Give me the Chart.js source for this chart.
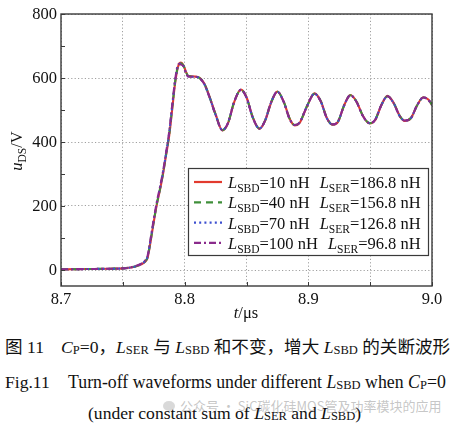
<!DOCTYPE html>
<html><head><meta charset="utf-8">
<script src="https://cdn.jsdelivr.net/npm/chart.js@4.4.0/dist/chart.umd.min.js"></script>
<style>
html,body{margin:0;padding:0;background:#fff;}
#wrap{position:relative;width:451px;height:425px;overflow:hidden;background:#fff;}
canvas{position:absolute;left:0;top:0;}
.cap{position:absolute;font-family:"Liberation Serif","Noto Sans CJK SC",serif;font-size:17.6px;color:#111;white-space:nowrap;line-height:20px;}
.cap i{font-style:italic;}
.cap sub{font-size:12.5px;vertical-align:-1px;line-height:0;}
.wm{position:absolute;font-family:"Noto Sans CJK SC",sans-serif;font-size:13px;color:rgba(150,150,150,0.55);white-space:nowrap;line-height:16px;}
.ico{position:absolute;width:12px;height:10px;border-radius:50%;background:rgba(170,170,170,0.45);}
</style></head>
<body><div id="wrap">
<canvas id="c" width="451" height="325" style="width:451px;height:325px"></canvas>
<div class="cap" style="left:5px;top:337px">图 11</div>
<div class="cap" style="left:61px;top:337px;font-size:17.6px"><i>C</i><sub>P</sub>=0，<i>L</i><sub>SER</sub> 与 <i>L</i><sub>SBD</sub> 和不变，增大 <i>L</i><sub>SBD</sub> 的关断波形</div>
<div class="cap" style="left:5px;top:372px">Fig.11</div>
<div class="cap" style="left:68px;top:372px;font-size:17.8px">Turn-off waveforms under different <i>L</i><sub>SBD</sub> when <i>C</i><sub>P</sub>=0</div>
<div class="ico" style="left:163px;top:401px"></div>
<div class="wm" style="left:180px;top:398px">公众号 · SiC碳化硅MOS管及功率模块的应用</div>
<div class="cap" style="left:88px;top:403px">(under constant sum of <i>L</i><sub>SER</sub> and <i>L</i><sub>SBD</sub>)</div>
</div>
<script>
// ---- data ----
const tUs = [8.700,8.720,8.740,8.750,8.755,8.760,8.765,8.768,8.770,8.7725,8.775,8.7775,8.780,8.7825,8.785,8.7875,8.790,8.7925,8.795,8.797,8.799,8.801,8.803,8.806,8.810,8.813,8.816,8.820,8.825,8.8305,8.835,8.840,8.8455,8.850,8.855,8.8605,8.865,8.870,8.875,8.880,8.885,8.889,8.893,8.899,8.905,8.910,8.915,8.9195,8.924,8.929,8.934,8.939,8.944,8.9495,8.954,8.959,8.964,8.969,8.974,8.978,8.983,8.988,8.993,8.997,9.000];
const uSbd10  = [2,3,4,5,7,11,18,26,38,90,150,205,250,300,360,420,505,590,640,648,640,620,606,605,604,598,582,543,487,436,458,524,564,540,478,441,466,524,558,527,472,452,460,512,552,528,475,454,463,515,547,526,483,458,468,515,544,522,481,466,475,515,540,533,516];
const uSbd40  = [2,3,4,5,7,11,18,27,40,93,152,207,252,302,362,424,510,594,641,646,639,619,606,605,603,597,581,542,486,437,459,525,563,540,478,442,467,525,557,527,472,453,461,513,551,528,475,455,464,515,546,526,483,459,469,515,543,522,481,467,475,515,539,533,516];
const uSbd70  = [2,3,4,5,7,11,19,28,42,96,155,210,255,305,365,428,514,597,642,645,638,618,605,604,603,596,580,541,485,437,459,525,563,539,477,442,467,525,557,526,471,453,461,513,551,527,474,455,464,515,546,525,482,459,469,515,543,521,480,467,475,515,539,532,515];
const uSbd100 = [2,3,4,5,7,12,20,29,44,99,158,213,258,308,368,432,518,600,643,642,636,616,604,604,603,596,580,541,485,437,459,525,563,539,477,442,467,525,557,526,471,453,461,513,551,527,474,455,464,515,546,525,482,459,469,515,543,521,480,467,475,515,539,532,515];
const lSbdLabels = ['10','40','70','100'];
const lSerLabels = ['186.8','156.8','126.8','96.8'];
const xTicks = [8.70,8.75,8.80,8.85,8.90,8.95,9.00];
const xTickLabels = ['8.7','','8.8','','8.9','','9.0'];
const yTicks = [0,200,400,600,800];
const yTickLabels = ['0','200','400','600','800'];
const yMinorTicks = [0,100,200,300,400,500,600,700,800];

const colors = ['#e23a2e','#3f8f3a','#3c4fd0','#8a2b8c'];
const dashes = [[],[7,5],[2,3.2],[7,3,2,3]];
const drawOrder = [4,3,2,1];
const series = [uSbd10,uSbd40,uSbd70,uSbd100];

const SERIF = "'Liberation Serif', serif";
const MAIN = 16.5, SUB = 11.5;
const INK = '#111';

function fnt(st){ return st==='s' ? `${SUB}px ${SERIF}` : st==='i' ? `italic ${MAIN}px ${SERIF}` : `${MAIN}px ${SERIF}`; }
function rich(ctx, parts, x, y){
  for (const [txt, st] of parts){
    ctx.font = fnt(st);
    ctx.fillText(txt, x, st==='s' ? y+4 : y);
    x += ctx.measureText(txt).width;
  }
  return x;
}
function richWidth(ctx, parts){
  let w=0;
  for (const [txt, st] of parts){ ctx.font = fnt(st); w += ctx.measureText(txt).width; }
  return w;
}

const deco = {
  id:'deco',
  afterDraw(chart){
    const {ctx, chartArea:a, scales:{x,y}} = chart;
    ctx.save();
    ctx.strokeStyle='#3a3a3a'; ctx.lineWidth=1; ctx.setLineDash([]);
    ctx.beginPath();
    for (const v of yMinorTicks){ const py=Math.round(y.getPixelForValue(v))+0.5; ctx.moveTo(a.left,py); ctx.lineTo(a.left+4,py); }
    for (const v of xTicks){ const px=Math.round(x.getPixelForValue(v))+0.5; ctx.moveTo(px,a.bottom); ctx.lineTo(px,a.bottom-4); }
    ctx.stroke();
    ctx.strokeStyle='#3a3a3a'; ctx.lineWidth=1.4;
    ctx.strokeRect(a.left, a.top, a.right-a.left, a.bottom-a.top);
    // tick labels
    ctx.fillStyle=INK; ctx.font=`16.5px ${SERIF}`;
    ctx.textAlign='right'; ctx.textBaseline='middle';
    yTicks.forEach((v,i)=>ctx.fillText(yTickLabels[i], a.left-4, y.getPixelForValue(v)+0.5));
    ctx.textAlign='center'; ctx.textBaseline='alphabetic';
    xTicks.forEach((v,i)=>{ if (xTickLabels[i]) ctx.fillText(xTickLabels[i], x.getPixelForValue(v), a.bottom+17.5); });
    // legend
    const lx=188, ly=168, lw=240, lh=87;
    ctx.fillStyle='#fff'; ctx.fillRect(lx,ly,lw,lh);
    ctx.strokeStyle='#3a3a3a'; ctx.lineWidth=1.2; ctx.strokeRect(lx+0.5,ly+0.5,lw,lh);
    ctx.textBaseline='alphabetic'; ctx.textAlign='left';
    for (let i=0;i<4;i++){
      const cy = 182 + i*20.3;
      ctx.strokeStyle=colors[i]; ctx.lineWidth=2.2; ctx.setLineDash(dashes[i]);
      ctx.beginPath(); ctx.moveTo(194,cy); ctx.lineTo(222,cy); ctx.stroke();
      ctx.setLineDash([]);
      ctx.fillStyle=INK;
      let xx = rich(ctx, [['L','i'],['SBD','s'],['='+lSbdLabels[i]+' nH','n']], 228, cy+6);
      rich(ctx, [['L','i'],['SER','s'],['='+lSerLabels[i]+' nH','n']], xx+10, cy+6);
    }
    ctx.fillStyle=INK;
    const xt=[['t','i'],['/μs','n']];
    const xw=richWidth(ctx,xt);
    rich(ctx, xt, 246-xw/2, 318);
    ctx.save();
    ctx.translate(22,151); ctx.rotate(-Math.PI/2);
    const yt=[['u','i'],['DS','s'],['/V','n']];
    const yw=richWidth(ctx,yt);
    rich(ctx, yt, -yw/2, 0);
    ctx.restore();
    ctx.restore();
  }
};

function build(){
  Chart.defaults.font.family = SERIF;
  const gridCommon = {color:'#a0a0a0', lineWidth:1, drawTicks:false};
  new Chart(document.getElementById('c').getContext('2d'), {
    type:'line',
    data:{
      datasets: series.map((s,i)=>({
        data: tUs.map((t,k)=>({x:t, y:s[k]})),
        borderColor: colors[i], borderWidth: 2.1, borderDash: dashes[i], order: drawOrder[i],
        pointRadius: 0, fill:false, cubicInterpolationMode:'monotone', tension:0.4
      }))
    },
    options:{
      responsive:false, animation:false, devicePixelRatio:1,
      layout:{padding:{left:0,right:19,top:14,bottom:0}},
      plugins:{legend:{display:false}, tooltip:{enabled:false}},
      scales:{
        x:{type:'linear', min:8.7, max:9.0,
          afterBuildTicks(s){ s.ticks = xTicks.map(v=>({value:v})); },
          afterFit(s){ s.height = 39; },
          ticks:{ display:false },
          grid: gridCommon,
          border:{display:false, dash:[1.2,2.2]}
        },
        y:{type:'linear', min:-50, max:800,
          afterBuildTicks(s){ s.ticks = yTicks.map(v=>({value:v})); },
          afterFit(s){ s.width = 61; },
          ticks:{ display:false },
          grid: gridCommon,
          border:{display:false, dash:[1.2,2.2]}
        }
      }
    },
    plugins:[deco]
  });
}
const fl = [`16px 'Liberation Serif'`, `italic 16px 'Liberation Serif'`];
Promise.all(fl.map(f=>document.fonts.load(f))).then(build, build);
</script>
</body></html>
